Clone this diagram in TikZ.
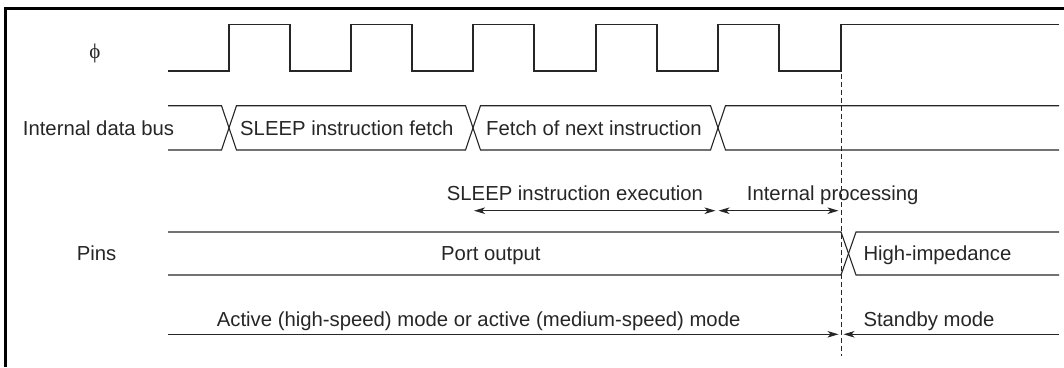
\documentclass[tikz,border=0pt]{standalone}
\usepackage{fontspec}
\setmainfont{Liberation Sans}
\newfontfamily\phifont{Liberation Serif}
\usetikzlibrary{arrows.meta}
\begin{document}
\begin{tikzpicture}[x=1pt,y=-1pt,
  wave/.style={line width=1.1pt,draw=black!85,line join=miter},
  lbl/.style={anchor=base west,inner sep=0pt,font=\fontsize{20.3}{24}\selectfont,text=black!85},
  dim/.style={line width=1pt,draw=black!85,{Stealth[length=11pt,width=6.5pt,inset=3pt]}-{Stealth[length=11pt,width=6.5pt,inset=3pt]}},
  dimr/.style={line width=1pt,draw=black!85,-{Stealth[length=11pt,width=6.5pt,inset=3pt]}},
  border/.style={line width=3pt,draw=black},
  guide/.style={line width=1pt,draw=black!85,dash pattern=on 5pt off 3pt}]
\useasboundingbox (0,0) rectangle (1064,367);
% border (top and left only)
\draw[border] (1064,8.5) -- (5,8.5) -- (5,367);
% clock
\draw[wave] (168,71) -- (229,71) -- (229,24.3) -- (290,24.3) -- (290,71)
  -- (351,71) -- (351,24.3) -- (412,24.3) -- (412,71)
  -- (473,71) -- (473,24.3) -- (534,24.3) -- (534,71)
  -- (596,71) -- (596,24.3) -- (657,24.3) -- (657,71)
  -- (718,71) -- (718,24.3) -- (779,24.3) -- (779,71)
  -- (841,71) -- (841,24.3) -- (1059,24.3);
\node[inner sep=0pt,font=\phifont\fontsize{21}{24}\selectfont,text=black!85] (phi) at (95,53) {ϕ};
% internal data bus
\draw[wave] (168,105.7) -- (221.5,105.7) -- (236.5,150) -- (465.5,150) -- (480.5,105.7) -- (710.5,105.7) -- (725.5,150) -- (1059,150);
\draw[wave] (168,150) -- (221.5,150) -- (236.5,105.7) -- (465.5,105.7) -- (480.5,150) -- (710.5,150) -- (725.5,105.7) -- (1059,105.7);
\node[lbl] (idb) at (22.7,135.5) {Internal data bus};
\node[lbl] (fetch) at (240,135.5) {SLEEP instruction fetch};
\node[lbl] (next) at (486,135.5) {Fetch of next instruction};
% execution arrows
\coordinate (e1) at (474,210.7);
\coordinate (e2) at (715.5,210.7);
\coordinate (p1) at (718.5,210.7);
\coordinate (p2) at (838.5,210.7);
\draw[dim] (e1) -- (e2);
\draw[dim] (p1) -- (p2);
\node[lbl] (exec) at (446.7,200.5) {SLEEP instruction execution};
\node[lbl] (proc) at (746.7,200.5) {Internal processing};
% pins
\draw[wave] (168,232) -- (841,232) -- (856,275) -- (1059,275);
\draw[wave] (168,275) -- (841,275) -- (856,232) -- (1059,232);
\node[lbl] (pins) at (76.7,260.5) {Pins};
\node[lbl] (port) at (441,260.5) {Port output};
\node[lbl] (hiz) at (863.3,260.5) {High-impedance};
% modes
\coordinate (m0) at (168,334.3);
\coordinate (m1) at (838.5,334.3);
\coordinate (m2) at (843.5,334.3);
\coordinate (m3) at (1059,334.3);
\draw[dimr] (m0) -- (m1);
\draw[dimr] (m3) -- (m2);
\node[lbl] (active) at (216.7,326) {Active (high-speed) mode or active (medium-speed) mode};
\node[lbl] (standby) at (863.3,326) {Standby mode};
% guide
\coordinate (g0) at (841,74);
\coordinate (g1) at (841,356);
\draw[guide] (g0) -- (g1);
\end{tikzpicture}
\end{document}
